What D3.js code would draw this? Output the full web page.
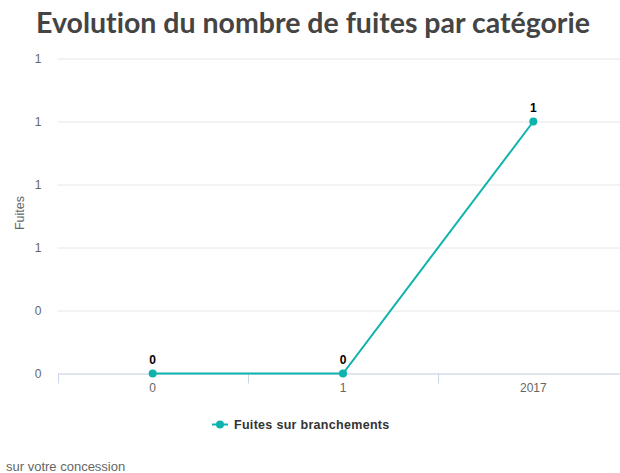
<!DOCTYPE html>
<html><head><meta charset="utf-8">
<script src="https://cdn.jsdelivr.net/npm/d3@7"></script>
<style>body{margin:0;background:#fff;overflow:hidden}svg{display:block}</style>
</head><body>
<script>
const categories = ["0", "1", "2017"];
const seriesName = "Fuites sur branchements";
const values = [0, 0, 1];
const yTicks = [0, 0.25, 0.5, 0.75, 1, 1.25];
const titleText = "Evolution du nombre de fuites par catégorie";
const yTitle = "Fuites";
const footer = "sur votre concession";
const color = "#0fb3ae";

const W = 620, H = 473;
const svg = d3.select("body").append("svg").attr("width", W).attr("height", H)
  .style("font-family", "'Liberation Sans', Arial, sans-serif");

const x = d3.scaleBand().domain(categories).range([57.5, 628.5]);
const y = d3.scaleLinear().domain([0, 1.25]).range([373.5, 58.5]);

svg.append("text").attr("x", 313).attr("y", 33).attr("text-anchor", "middle")
  .attr("font-family", "Lato, sans-serif").attr("font-weight", "bold")
  .style("font-variant-ligatures", "none")
  .attr("font-size", 28.5).attr("fill", "#444").text(titleText);

// grid
const yAxis = d3.axisLeft(y).tickValues(yTicks).tickSize(-(628.5 - 57.5))
  .tickFormat(d => d3.format(".0f")(Math.round(d)));
const gy = svg.append("g").attr("transform", "translate(57.5,0)").call(yAxis);
gy.select(".domain").remove();
gy.selectAll(".tick line").attr("stroke", "#e6e6e6");
gy.selectAll(".tick text").attr("x", -16).attr("fill", "#666").attr("font-size", 12);

// x axis
const xAxis = d3.axisBottom(x).tickSize(0);
const gx = svg.append("g").attr("transform", "translate(0,373.5)").call(xAxis);
gx.select(".domain").attr("stroke", "#ccd6eb");
gx.selectAll(".tick text").attr("dy", 0).attr("y", 18).attr("fill", "#666").attr("font-size", 12);
// band boundary ticks
svg.append("g").selectAll("line").data(categories).join("line")
  .attr("x1", d => Math.round(x(d)) + 0.5).attr("x2", d => Math.round(x(d)) + 0.5)
  .attr("y1", 373.5).attr("y2", 383.5).attr("stroke", "#ccd6eb");

svg.append("text").attr("transform", "translate(24,213) rotate(-90)")
  .attr("text-anchor", "middle").attr("fill", "#666").attr("font-size", 12.5).text(yTitle);

const cx = d => x(d) + x.bandwidth() / 2;
const line = d3.line().x((d, i) => cx(categories[i])).y(d => y(d));
svg.append("path").datum(values).attr("d", line).attr("fill", "none")
  .attr("stroke", color).attr("stroke-width", 2);
svg.append("g").selectAll("circle").data(values).join("circle")
  .attr("cx", (d, i) => cx(categories[i])).attr("cy", d => y(d)).attr("r", 4).attr("fill", color);
svg.append("g").selectAll("text").data(values).join("text")
  .attr("x", (d, i) => cx(categories[i])).attr("y", d => y(d) - 10)
  .attr("text-anchor", "middle").attr("font-weight", "bold").attr("font-size", 12)
  .attr("fill", "#000").text(d => d);

// legend
const lg = svg.append("g").attr("transform", "translate(212,424.5)");
lg.append("line").attr("x1", 0).attr("x2", 16).attr("stroke", color).attr("stroke-width", 2);
lg.append("circle").attr("cx", 8).attr("r", 4).attr("fill", color);
lg.append("text").attr("x", 22).attr("y", 4.5).attr("font-weight", "bold").attr("font-size", 12.5)
  .attr("letter-spacing", 0.3).attr("fill", "#333").text(seriesName);

svg.append("text").attr("x", 6).attr("y", 471).attr("fill", "#666").attr("font-size", 13).text(footer);
</script>
</body></html>
